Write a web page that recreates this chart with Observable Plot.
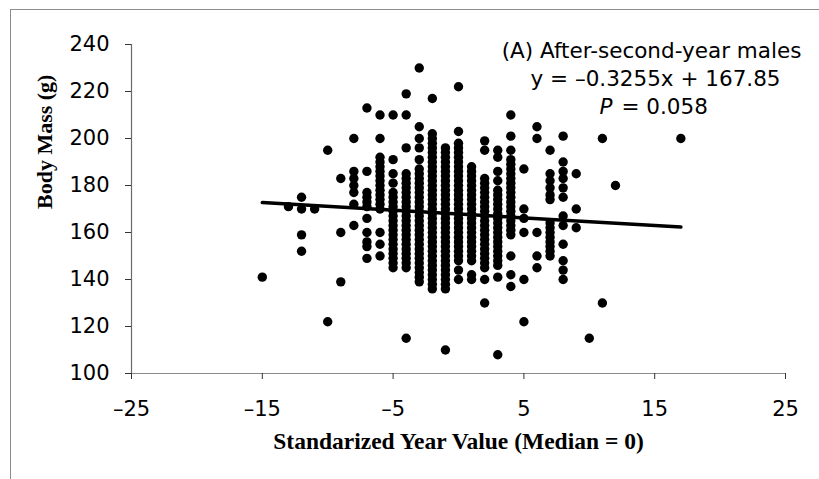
<!DOCTYPE html>
<html>
<head>
<meta charset="utf-8">
<script src="https://cdn.jsdelivr.net/npm/d3@7"></script>
<script src="https://cdn.jsdelivr.net/npm/@observablehq/plot@0.6"></script>
<style>
  html, body { margin: 0; padding: 0; background: #fff; }
  #chart { position: relative; width: 819px; height: 479px; overflow: hidden; }
  #frame { position: absolute; left: 10px; top: 9px; width: 830px; height: 490px;
           border-left: 1px solid #8c8c8c; border-top: 1px solid #8c8c8c; pointer-events: none; }
  #chart svg { position: absolute; left: 0; top: 0; }
</style>
</head>
<body>
<div id="chart"><div id="frame"></div></div>
<script>
// ---- data ----
const yearValues = [-15, -13, -12, -11, -10, -9, -8, -7, -6, -5, -4, -3, -2, -1, 0, 1, 2, 3, 4, 5, 6, 7, 8, 9, 10, 11, 12, 17];
const bodyMasses = [
  [141],
  [171],
  [175, 170, 159, 152],
  [170],
  [195, 122],
  [183, 160, 139],
  [200, 186, 183, 180, 177, 172, 163],
  [213, 186, 177, 175, 173, 171, 166, 160, 156, 154, 149],
  [210, 200, 192, 190, 188, 186, 184, 182, 180, 178, 176, 174, 172, 170, 160, 155, 150],
  [210, 191, 185, 181, 177, 175, 173, 171, 169, 167, 165, 163, 161, 159, 157, 155, 153, 151, 149, 147, 145],
  [219, 210, 196, 185, 183, 181, 179, 177, 175, 173, 171, 169, 167, 165, 163, 161, 159, 157, 155, 153, 151, 149, 147, 145, 115],
  [230, 205, 200, 196, 191, 187, 185, 183, 181, 179, 177, 175, 173, 171, 169, 167, 165, 163, 161, 159, 157, 155, 153, 151, 149, 147, 145, 143, 141, 139],
  [217, 202, 200, 198, 196, 194, 192, 190, 188, 186, 184, 182, 180, 178, 176, 174, 172, 170, 168, 166, 164, 162, 160, 158, 156, 154, 152, 150, 148, 146, 144, 142, 140, 138, 136],
  [196, 194, 192, 190, 188, 186, 184, 182, 180, 178, 176, 174, 172, 170, 168, 166, 164, 162, 160, 158, 156, 154, 152, 150, 148, 146, 144, 142, 140, 138, 136, 110],
  [222, 203, 198, 196, 194, 192, 190, 188, 186, 184, 182, 180, 178, 176, 174, 172, 170, 168, 166, 164, 162, 160, 158, 156, 154, 152, 150, 148, 144, 140],
  [188, 186, 184, 182, 180, 178, 176, 174, 172, 170, 168, 166, 164, 162, 160, 158, 156, 154, 152, 150, 148, 142, 140],
  [199, 195, 183, 181, 179, 177, 175, 173, 171, 169, 167, 165, 163, 161, 159, 157, 155, 153, 151, 149, 147, 145, 140, 130],
  [195, 192, 186, 182, 178, 176, 174, 172, 170, 168, 166, 164, 162, 160, 158, 156, 154, 152, 150, 148, 146, 141, 108],
  [210, 201, 195, 191, 189, 187, 185, 183, 181, 179, 177, 175, 173, 171, 169, 167, 165, 163, 161, 159, 150, 142, 137],
  [187, 170, 166, 160, 140, 122],
  [205, 200, 160, 150, 145],
  [195, 185, 182, 179, 176, 174, 164, 162, 160, 158, 156, 154, 152, 150],
  [201, 190, 186, 183, 179, 175, 167, 163, 155, 148, 144, 140],
  [185, 170, 162],
  [115],
  [200, 130],
  [180],
  [200]
];

// regression line reported on the chart
const slope = -0.3255;
const intercept = 167.85;
const lineXRange = [-15, 17];

// axes
const xTicks = [-25, -15, -5, 5, 15, 25];
const xTickLabels = ["\u201325", "\u201315", "\u20135", "5", "15", "25"];
const yTicks = [100, 120, 140, 160, 180, 200, 220, 240];
const xTitle = "Standarized Year Value (Median = 0)";
const yTitle = "Body Mass (g)";
const annotationLines = ["(A) After-second-year males", "y = \u20130.3255x + 167.85"];
const pLabel = ["P", "= 0.058"];

// ---- build ----
const points = yearValues.flatMap((x, i) => bodyMasses[i].map(m => ({x, m})));
const sansFont = "'DejaVu Sans', sans-serif";
const serifFont = "'Liberation Serif', 'Times New Roman', serif";

const plot = Plot.plot({
  width: 819,
  height: 479,
  marginLeft: 131,
  marginRight: 34,
  marginTop: 44,
  marginBottom: 106,
  style: {background: "transparent", fontFamily: sansFont, fontSize: "20px", color: "#000"},
  x: {domain: [-25, 25]},
  y: {domain: [100, 240]},
  marks: [
    Plot.ruleY([100], {stroke: "#8a8a8a", strokeWidth: 1.2}),
    Plot.ruleX([-25], {stroke: "#6a6a6a", strokeWidth: 1.2}),
    Plot.axisX({ticks: xTicks, tickFormat: d => xTickLabels[xTicks.indexOf(d)], tickSize: 6, tickPadding: 22,
                fontSize: 21, fontFamily: sansFont, label: null, stroke: "#333"}),
    Plot.axisY({ticks: yTicks, tickSize: 6, tickPadding: 16, fontSize: 21, fontFamily: sansFont, label: null, stroke: "#333"}),
    Plot.dot(points, {x: "x", y: "m", r: 4.7, fill: "#000", stroke: "none"}),
    Plot.line(lineXRange, {x: d => d, y: d => intercept + slope * d, stroke: "#000", strokeWidth: 3.5}),
    Plot.text([xTitle], {text: d => d, frameAnchor: "bottom", lineAnchor: "bottom", dy: 75,
                         fontFamily: serifFont, fontWeight: "bold", fontSize: 23.5, fill: "#000"}),
    Plot.text([yTitle], {text: d => d, frameAnchor: "left", lineAnchor: "bottom", rotate: -90, dx: -80,
                         fontFamily: serifFont, fontWeight: "bold", fontSize: 22, fill: "#000"}),
    Plot.text([annotationLines[0]], {text: d => d, frameAnchor: "top", lineAnchor: "bottom", dx: 193, dy: 13,
                         fontFamily: sansFont, fontSize: 21.5, fill: "#000"}),
    Plot.text([annotationLines[1]], {text: d => d, frameAnchor: "top", lineAnchor: "bottom", dx: 197, dy: 41,
                         fontFamily: sansFont, fontSize: 21.5, fill: "#000"}),
    Plot.text([pLabel[0]], {text: d => d, frameAnchor: "top", lineAnchor: "bottom", textAnchor: "end", dx: 154, dy: 69,
                         fontFamily: sansFont, fontStyle: "italic", fontSize: 21.5, fill: "#000"}),
    Plot.text([pLabel[1]], {text: d => d, frameAnchor: "top", lineAnchor: "bottom", textAnchor: "start", dx: 163, dy: 69,
                         fontFamily: sansFont, fontSize: 21.5, fill: "#000"})
  ]
});
document.getElementById("chart").appendChild(plot);
</script>
</body>
</html>
